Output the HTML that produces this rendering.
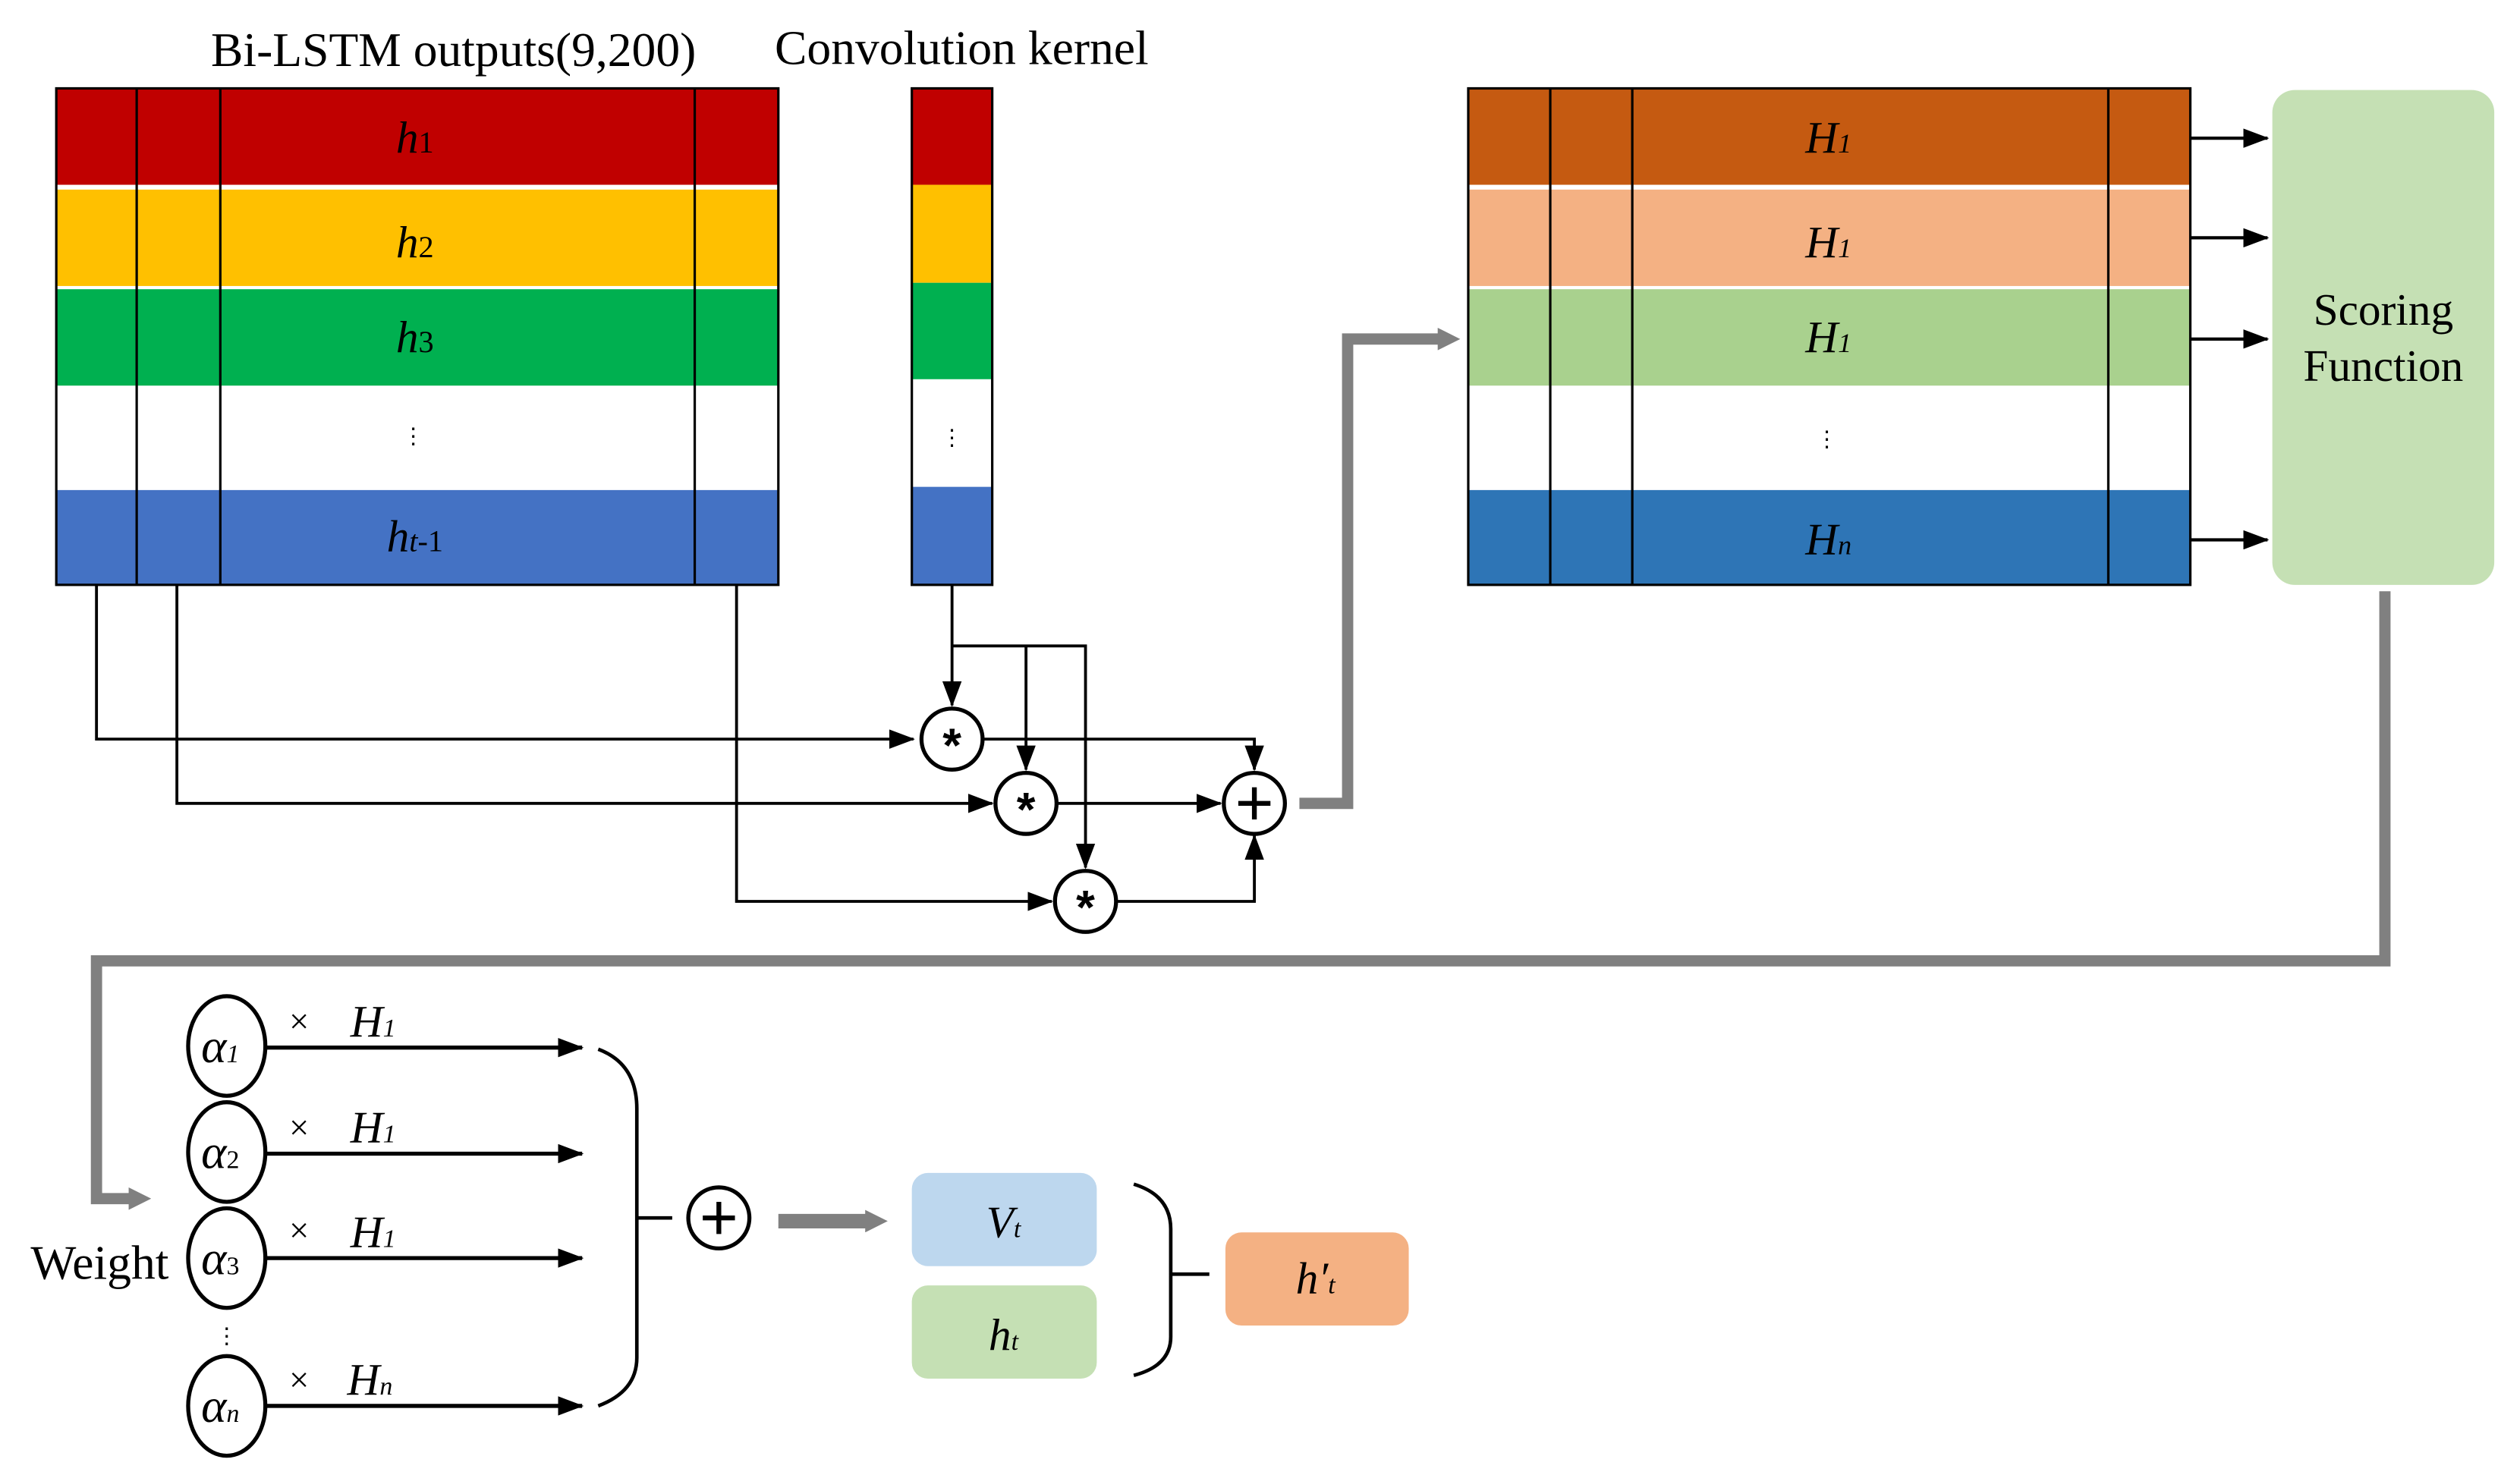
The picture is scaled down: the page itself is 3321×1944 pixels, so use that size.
<!DOCTYPE html>
<html><head><meta charset="utf-8"><style>html,body{margin:0;padding:0;background:#fff}svg{display:block}text{font-family:"Liberation Serif",serif}</style></head>
<body>
<svg width="3321" height="1944" viewBox="0 0 1567 918" preserveAspectRatio="none" xmlns="http://www.w3.org/2000/svg">
<defs>
<marker id="a" markerWidth="10" markerHeight="8" refX="9" refY="4" orient="auto" markerUnits="userSpaceOnUse"><path d="M0,0L10,4L0,8z" fill="#000"/></marker>
<marker id="b" markerWidth="16" markerHeight="12" refX="15" refY="6" orient="auto" markerUnits="userSpaceOnUse"><path d="M0,0L16,6L0,12z" fill="#000"/></marker>
<marker id="g" markerWidth="14" markerHeight="14" refX="2" refY="7" orient="auto" markerUnits="userSpaceOnUse"><path d="M0,0L14,7L0,14z" fill="#808080"/></marker>
</defs>
<text x="282" y="41" font-size="30" text-anchor="middle">Bi-LSTM outputs(9,200)</text>
<text x="598" y="40" font-size="30" text-anchor="middle">Convolution kernel</text>
<rect x="35" y="55" width="449" height="60" fill="#C00000"/>
<rect x="35" y="118" width="449" height="60" fill="#FFC000"/>
<rect x="35" y="180" width="449" height="60" fill="#00B050"/>
<rect x="35" y="305" width="449" height="59" fill="#4472C4"/>
<rect x="35" y="55" width="449" height="309" fill="none" stroke="#000" stroke-width="1.5"/>
<path d="M85,55V364M137,55V364M432,55V364" stroke="#000" stroke-width="1.5"/>
<g font-size="28" font-style="italic" text-anchor="middle">
<text x="258" y="95">h<tspan font-size="19" font-style="normal">1</tspan></text>
<text x="258" y="160">h<tspan font-size="19" font-style="normal">2</tspan></text>
<text x="258" y="219">h<tspan font-size="19" font-style="normal">3</tspan></text>
<text x="258" y="343">h<tspan font-size="19">t</tspan><tspan font-size="19" font-style="normal">-1</tspan></text>
</g>
<text x="257" y="276" font-size="14" text-anchor="middle">⋮</text>
<rect x="567" y="55" width="50" height="60" fill="#C00000"/>
<rect x="567" y="115" width="50" height="61" fill="#FFC000"/>
<rect x="567" y="176" width="50" height="60" fill="#00B050"/>
<rect x="567" y="303" width="50" height="61" fill="#4472C4"/>
<rect x="567" y="55" width="50" height="309" fill="none" stroke="#000" stroke-width="1.5"/>
<text x="592" y="277" font-size="14" text-anchor="middle">⋮</text>
<rect x="913" y="55" width="449" height="60" fill="#C55A11"/>
<rect x="913" y="118" width="449" height="60" fill="#F4B183"/>
<rect x="913" y="180" width="449" height="60" fill="#A9D18E"/>
<rect x="913" y="305" width="449" height="59" fill="#2E75B6"/>
<rect x="913" y="55" width="449" height="309" fill="none" stroke="#000" stroke-width="1.5"/>
<path d="M964,55V364M1015,55V364M1311,55V364" stroke="#000" stroke-width="1.5"/>
<g font-size="28" font-style="italic" text-anchor="middle">
<text x="1137" y="95">H<tspan font-size="17">1</tspan></text>
<text x="1137" y="160">H<tspan font-size="17">1</tspan></text>
<text x="1137" y="219">H<tspan font-size="17">1</tspan></text>
<text x="1137" y="345">H<tspan font-size="17">n</tspan></text>
</g>
<text x="1136" y="278" font-size="14" text-anchor="middle">⋮</text>
<rect x="1413" y="56" width="138" height="308" rx="14" fill="#C5E0B4"/>
<text x="1482" y="202" font-size="28" text-anchor="middle">Scoring</text>
<text x="1482" y="237" font-size="28" text-anchor="middle">Function</text>
<g stroke="#000" stroke-width="2">
<path d="M1362,86H1410" marker-end="url(#b)"/><path d="M1362,148H1410" marker-end="url(#b)"/><path d="M1362,211H1410" marker-end="url(#b)"/><path d="M1362,336H1410" marker-end="url(#b)"/>
</g>
<g stroke="#000" stroke-width="1.8" fill="none">
<path d="M60,364V460H568" marker-end="url(#b)"/>
<path d="M110,364V500H617" marker-end="url(#b)"/>
<path d="M458,364V561H654" marker-end="url(#b)"/>
<path d="M592,364V439" marker-end="url(#b)"/>
<path d="M592,402H675V540" marker-end="url(#b)"/>
<path d="M638,402V479" marker-end="url(#b)"/>
<path d="M611,460H780V479" marker-end="url(#b)"/>
<path d="M657,500H759" marker-end="url(#b)"/>
<path d="M694,561H780V520" marker-end="url(#b)"/>
</g>
<g stroke="#000" stroke-width="2.5" fill="#fff">
<circle cx="592" cy="460" r="19"/><circle cx="638" cy="500" r="19"/><circle cx="675" cy="561" r="19"/><circle cx="780" cy="500" r="19"/>
</g>
<g font-size="30" text-anchor="middle" font-weight="bold">
<text x="592" y="474" style="font-family:'Liberation Sans',sans-serif">*</text><text x="638" y="514" style="font-family:'Liberation Sans',sans-serif">*</text><text x="675" y="575" style="font-family:'Liberation Sans',sans-serif">*</text>
</g>
<path d="M770,500H790M780,490V510" stroke="#000" stroke-width="3"/>
<path d="M808,500H838V211H896" stroke="#808080" stroke-width="7" fill="none" marker-end="url(#g)"/>
<path d="M1483,368V598H60V746H82" stroke="#808080" stroke-width="7" fill="none" marker-end="url(#g)"/>
<path d="M484,760H540" stroke="#808080" stroke-width="9" fill="none" marker-end="url(#g)"/>
<g stroke="#000" stroke-width="2.5" fill="#fff">
<ellipse cx="141" cy="651" rx="24" ry="31"/><ellipse cx="141" cy="717" rx="24" ry="31"/><ellipse cx="141" cy="783" rx="24" ry="31"/><ellipse cx="141" cy="875" rx="24" ry="31"/>
</g>
<g font-size="30" font-style="italic" text-anchor="middle">
<text x="137" y="661">α<tspan font-size="16">1</tspan></text>
<text x="137" y="727">α<tspan font-size="16" font-style="normal">2</tspan></text>
<text x="137" y="793">α<tspan font-size="16" font-style="normal">3</tspan></text>
<text x="137" y="885">α<tspan font-size="16">n</tspan></text>
</g>
<g stroke="#000" stroke-width="2.5">
<path d="M165,652H362" marker-end="url(#b)"/><path d="M165,718H362" marker-end="url(#b)"/><path d="M165,783H362" marker-end="url(#b)"/><path d="M165,875H362" marker-end="url(#b)"/>
</g>
<g font-size="22" text-anchor="middle"><text x="186" y="643">×</text><text x="186" y="709">×</text><text x="186" y="773">×</text><text x="186" y="866">×</text></g>
<g font-size="28" font-style="italic" text-anchor="middle">
<text x="232" y="645">H<tspan font-size="16">1</tspan></text>
<text x="232" y="711">H<tspan font-size="16">1</tspan></text>
<text x="232" y="776">H<tspan font-size="16">1</tspan></text>
<text x="230" y="868">H<tspan font-size="16">n</tspan></text>
</g>
<text x="141" y="836" font-size="14" text-anchor="middle">⋮</text>
<text x="62" y="796" font-size="30" text-anchor="middle">Weight</text>
<path d="M372,653Q396,662 396,690V845Q396,866 372,875M396,758H418" stroke="#000" stroke-width="2.2" fill="none"/>
<circle cx="447" cy="758" r="19" stroke="#000" stroke-width="2.5" fill="#fff"/>
<path d="M437,758H457M447,748V768" stroke="#000" stroke-width="3"/>
<rect x="567" y="730" width="115" height="58" rx="10" fill="#BDD7EE"/>
<rect x="567" y="800" width="115" height="58" rx="10" fill="#C5E0B4"/>
<text x="624" y="770" font-size="28" font-style="italic" text-anchor="middle">V<tspan font-size="16">t</tspan></text>
<text x="624" y="840" font-size="28" font-style="italic" text-anchor="middle">h<tspan font-size="16">t</tspan></text>
<path d="M705,737Q728,744 728,765V832Q728,850 705,856M728,793H752" stroke="#000" stroke-width="2.2" fill="none"/>
<rect x="762" y="767" width="114" height="58" rx="10" fill="#F4B183"/>
<text x="818" y="805" font-size="28" font-style="italic" text-anchor="middle">h′<tspan font-size="16">t</tspan></text>
</svg>
</body></html>
